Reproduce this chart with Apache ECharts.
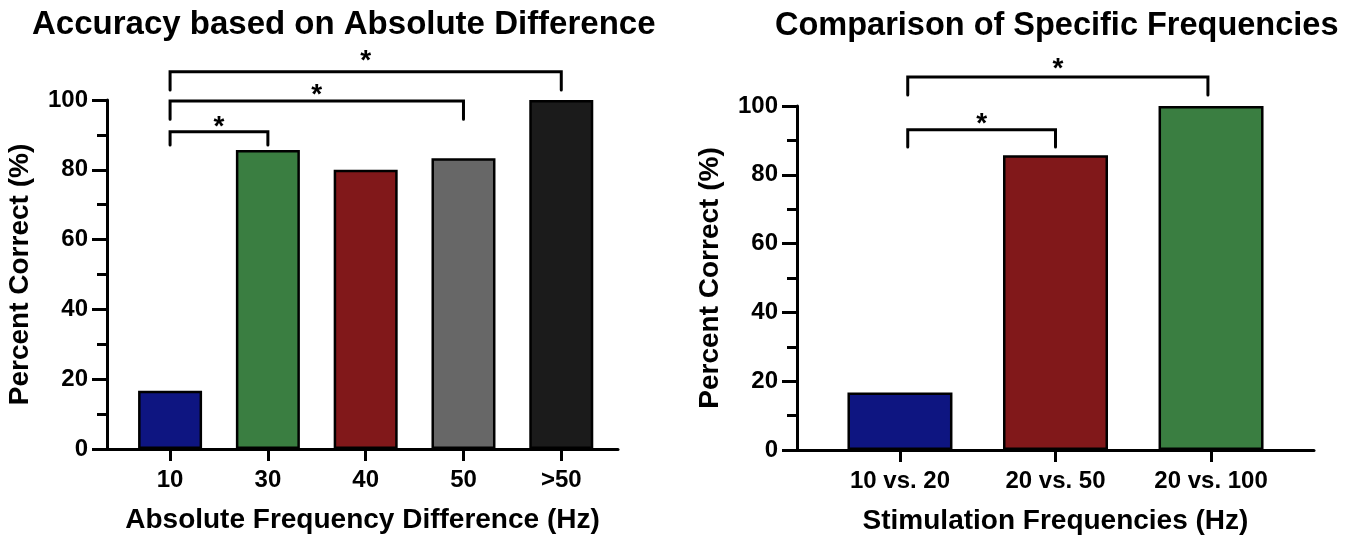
<!DOCTYPE html>
<html>
<head>
<meta charset="utf-8">
<script src="https://cdn.jsdelivr.net/npm/echarts@6/dist/echarts.min.js"></script>
<style>
  html, body { margin: 0; padding: 0; background: #fff; }
  #main { width: 1357px; height: 540px; }
</style>
</head>
<body>
<div id="main"></div>
<script>
// 左图：按绝对频差
const diffCats = ['10', '30', '40', '50', '>50'];
const diffValues = [16.7, 85.7, 80, 83.3, 100];
const diffColors = ['#0e1581', '#3a7e41', '#81181a', '#676767', '#1b1b1b'];
// 显著性标记 [起, 止, 横线高度, 竖线底部, 星号高度]
const diffBrackets = [
  [0, 1, 90.9, 87.1, 93.5],
  [0, 3, 99.7, 94.5, 102.7],
  [0, 4, 108.1, 102.9, 112.4]
];

// 右图：特定频率对比
const freqCats = ['10 vs. 20', '20 vs. 50', '20 vs. 100'];
const freqValues = [16.7, 85.7, 100];
const freqColors = ['#0e1581', '#81181a', '#3a7e41'];
const freqBrackets = [
  [0.05, 1, 93.1, 88.1, 96.0],
  [0.05, 1.98, 108.4, 103.2, 112.1]
];

const yTicks = [0, 20, 40, 60, 80, 100];

const FONT = '"Liberation Sans", Arial, Helvetica, sans-serif';

const chart = echarts.init(document.getElementById('main'));

function xAxisOf(idx, cats, min, max, name) {
  return {
    type: 'value',
    gridIndex: idx,
    min: min,
    max: max,
    name: name,
    nameLocation: 'middle',
    nameGap: 57,
    nameTextStyle: { fontFamily: FONT, fontWeight: 'bold', fontSize: 28, color: '#000' },
    splitLine: { show: false },
    axisLine: { onZero: false, lineStyle: { color: '#000', width: 3 } },
    axisTick: { customValues: cats.map((c, i) => i), length: 12, lineStyle: { width: 3, color: '#000' } },
    axisLabel: {
      customValues: cats.map((c, i) => i),
      formatter: v => cats[Math.round(v)],
      fontFamily: FONT, fontWeight: 'bold', fontSize: 24, color: '#000', margin: 19
    }
  };
}

function yAxisOf(idx) {
  return {
    type: 'value',
    gridIndex: idx,
    min: yTicks[0],
    max: yTicks[yTicks.length - 1],
    interval: 20,
    name: 'Percent Correct (%)',
    nameLocation: 'middle',
    nameGap: 73,
    nameTextStyle: { fontFamily: FONT, fontWeight: 'bold', fontSize: 28, color: '#000' },
    splitLine: { show: false },
    axisLine: { onZero: false, lineStyle: { color: '#000', width: 3 } },
    axisTick: { length: 15, lineStyle: { width: 3, color: '#000' } },
    minorTick: { show: true, splitNumber: 2, length: 10, lineStyle: { width: 3, color: '#000' } },
    axisLabel: { fontFamily: FONT, fontWeight: 'bold', fontSize: 24, color: '#000', margin: 19 }
  };
}

function barSeries(idx, values, colors, width) {
  return {
    type: 'bar',
    xAxisIndex: idx,
    yAxisIndex: idx,
    barWidth: width,
    data: values.map((v, i) => ({
      value: [i, v],
      itemStyle: { color: colors[i], borderColor: '#000', borderWidth: 2.5 }
    }))
  };
}

function bracketSeries(idx, brackets) {
  return {
    type: 'custom',
    xAxisIndex: idx,
    yAxisIndex: idx,
    clip: false,
    silent: true,
    data: brackets,
    renderItem: (params, api) => {
      const a = api.value(0), b = api.value(1);
      const h = api.value(2), leg = api.value(3), s = api.value(4);
      const pts = [
        api.coord([a, leg]), api.coord([a, h]),
        api.coord([b, h]), api.coord([b, leg])
      ];
      const star = api.coord([(a + b) / 2, s]);
      return {
        type: 'group',
        children: [
          {
            type: 'polyline',
            shape: { points: pts },
            style: { stroke: '#000', lineWidth: 3, fill: null, lineCap: 'round', lineJoin: 'miter' }
          },
          {
            type: 'text',
            x: star[0],
            y: star[1] + 5,
            style: {
              text: '*', fill: '#000', align: 'center', verticalAlign: 'middle',
              font: 'bold 28px ' + FONT
            }
          }
        ]
      };
    }
  };
}

chart.setOption({
  backgroundColor: '#fff',
  animation: false,
  title: [
    {
      text: 'Accuracy based on Absolute Difference',
      left: 27, top: 3,
      textStyle: { fontFamily: FONT, fontWeight: 'bold', fontSize: 33, color: '#000' }
    },
    {
      text: 'Comparison of Specific Frequencies',
      left: 770, top: 5,
      textStyle: { fontFamily: FONT, fontWeight: 'bold', fontSize: 32.5, color: '#000' }
    }
  ],
  grid: [
    { left: 107, top: 100, width: 511, height: 349 },
    { left: 797, top: 106, width: 517, height: 347 }
  ],
  xAxis: [
    xAxisOf(0, diffCats, -0.645, 4.58, 'Absolute Frequency Difference (Hz)'),
    xAxisOf(1, freqCats, -0.662, 2.662, 'Stimulation Frequencies (Hz)')
  ],
  yAxis: [yAxisOf(0), yAxisOf(1)],
  series: [
    barSeries(0, diffValues, diffColors, 64),
    bracketSeries(0, diffBrackets),
    barSeries(1, freqValues, freqColors, 105),
    bracketSeries(1, freqBrackets)
  ]
});
</script>
</body>
</html>
